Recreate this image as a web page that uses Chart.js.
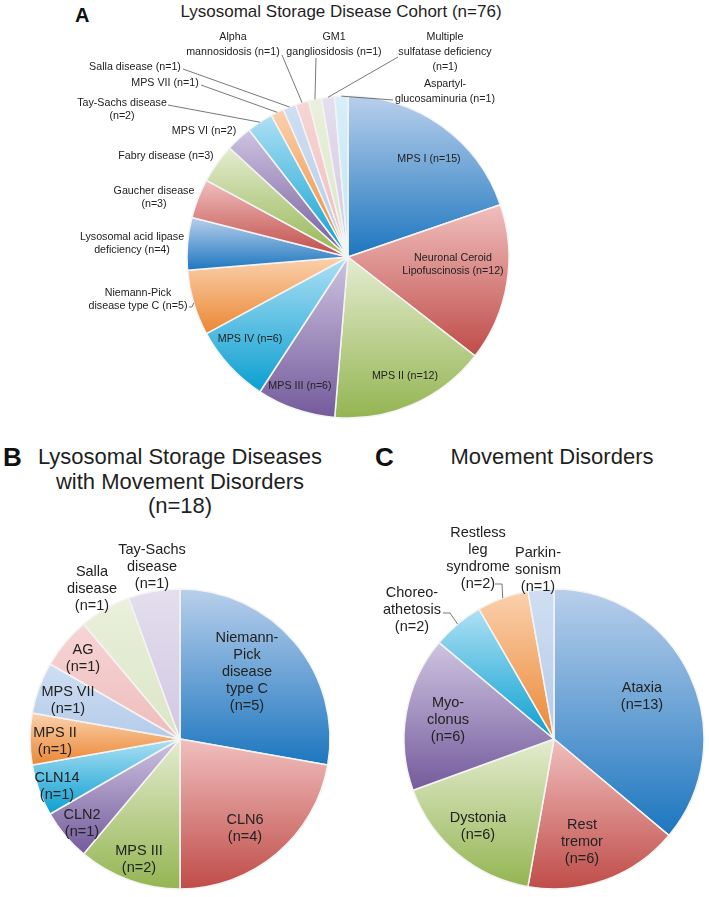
<!DOCTYPE html>
<html>
<head>
<meta charset="utf-8">
<script src="https://cdn.jsdelivr.net/npm/chart.js@4.4.1/dist/chart.umd.min.js"></script>
<style>
  body { margin: 0; background: #fff; font-family: "Liberation Sans", Arial, sans-serif; color: #1f1f1f; }
  #wrap { position: relative; width: 709px; height: 897px; overflow: hidden; }
  canvas { position: absolute; }
  .t { position: absolute; text-align: center; white-space: nowrap; }
  .letter { position: absolute; font-weight: bold; line-height: 1; color: #111; }
</style>
</head>
<body>
<div id="wrap">
  <div class="letter" style="left:75px;top:5px;font-size:20px;">A</div>
  <div class="t" style="left:141px;width:400px;top:3px;font-size:17px;line-height:1;">Lysosomal Storage Disease Cohort (n=76)</div>
  <div class="letter" style="left:3px;top:444px;font-size:26px;">B</div>
  <div class="t" style="left:20px;width:320px;top:445px;font-size:22px;line-height:24.5px;">Lysosomal Storage Diseases<br>with Movement Disorders<br>(n=18)</div>
  <div class="letter" style="left:375px;top:444px;font-size:26px;">C</div>
  <div class="t" style="left:402px;width:300px;top:445px;font-size:22px;line-height:24.5px;">Movement Disorders</div>
  <canvas id="cohortChart" width="709" height="440" style="left:0;top:0;"></canvas>
  <canvas id="lsdMovChart" width="360" height="457" style="left:0;top:440px;"></canvas>
  <canvas id="movChart" width="349" height="457" style="left:360px;top:440px;"></canvas>
</div>
<script>
// data
const cohortLabels = ['MPS I', 'Neuronal Ceroid\nLipofuscinosis', 'MPS II', 'MPS III', 'MPS IV',
  'Niemann-Pick\ndisease type C', 'Lysosomal acid lipase\ndeficiency', 'Gaucher disease', 'Fabry disease',
  'MPS VI', 'Tay-Sachs disease', 'MPS VII', 'Salla disease', 'Alpha\nmannosidosis', 'GM1\ngangliosidosis',
  'Multiple\nsulfatase deficiency', 'Aspartyl-\nglucosaminuria'];
const cohortCounts = [15, 12, 12, 6, 6, 5, 4, 3, 3, 2, 2, 1, 1, 1, 1, 1, 1];

const lsdMovLabels = ['Niemann-\nPick\ndisease\ntype C', 'CLN6', 'MPS III', 'CLN2', 'CLN14', 'MPS II',
  'MPS VII', 'AG', 'Salla\ndisease', 'Tay-Sachs\ndisease'];
const lsdMovCounts = [5, 4, 2, 1, 1, 1, 1, 1, 1, 1];

const movLabels = ['Ataxia', 'Rest\ntremor', 'Dystonia', 'Myo-\nclonus', 'Choreo-\nathetosis',
  'Restless\nleg\nsyndrome', 'Parkin-\nsonism'];
const movCounts = [13, 6, 6, 6, 2, 2, 1];

// colours: [top, bottom] of each slice gradient
const PAL = [
  ['#b9cfeb', '#1c76bf'], // blue
  ['#f0bfbe', '#bf4c48'], // red
  ['#e4ecd0', '#94b552'], // green
  ['#cec4e1', '#745a9b'], // purple
  ['#aee0f4', '#0a9fd0'], // cyan
  ['#fbd1ae', '#ea8733'], // orange
  ['#cfdef2', '#b5cbea'], // light blue
  ['#f7d5d5', '#eebcbc'], // light pink
  ['#eaf0dc', '#dbe5c5'], // light green
  ['#e4deee', '#d1c8e2'], // light purple
  ['#d8eef8', '#c1e4f3']  // light cyan
];
const cohortCols = [0, 1, 2, 3, 4, 5, 0, 1, 2, 3, 4, 5, 6, 7, 8, 9, 10];
const lsdMovCols = [0, 1, 2, 3, 4, 5, 6, 7, 8, 9];
const movCols = [0, 1, 2, 3, 4, 5, 6];

function inArc(a0, a1, t) {
  while (t < a0) t += Math.PI * 2;
  return t <= a1;
}

function sliceFill(values, cols) {
  return (c) => {
    const chart = c.chart, area = chart.chartArea;
    const pal = PAL[cols[c.dataIndex]];
    if (!area) return pal[1];
    const cx = (area.left + area.right) / 2, cy = (area.top + area.bottom) / 2;
    const r = c.dataset.radius;
    const total = values.reduce((a, b) => a + b, 0);
    let cum = 0;
    for (let k = 0; k < c.dataIndex; k++) cum += values[k];
    const a0 = -Math.PI / 2 + cum / total * Math.PI * 2;
    const a1 = a0 + values[c.dataIndex] / total * Math.PI * 2;
    const ys = [cy, cy + r * Math.sin(a0), cy + r * Math.sin(a1)];
    if (inArc(a0, a1, -Math.PI / 2)) ys.push(cy - r);
    if (inArc(a0, a1, Math.PI / 2)) ys.push(cy + r);
    const g = chart.ctx.createLinearGradient(0, Math.min(...ys), 0, Math.max(...ys));
    g.addColorStop(0, pal[0]);
    g.addColorStop(1, pal[1]);
    return g;
  };
}

// label placement, offsets from pie centre; lead = leader line points before the slice edge
const cohortPos = [
  { at: [81, -98] },
  { at: [105, 1] },
  { at: [57, 119] },
  { at: [-48, 129] },
  { at: [-98, 82] },
  { at: [-210, 36], lead: [[-159, 50], [-156, 50]] },
  { at: [-216, -20] },
  { at: [-194, -66], nl: true },
  { at: [-182, -101] },
  { at: [-144, -126] },
  { at: [-226, -154], nl: true, lead: [[-180, -152]] },
  { at: [-183, -174], lead: [[-147, -172]] },
  { at: [-213, -190], lead: [[-165, -188]] },
  { at: [-115, -220], lh: 15, lead: [[-66, -202]] },
  { at: [-14, -220], lh: 15, lead: [[-32, -199]] },
  { at: [97, -220], lh: 15, nl: true, lead: [[50, -200]] },
  { at: [97, -173], lh: 15, lead: [[45, -157]] }
];
const lsdMovPos = [
  { at: [67, -101] }, { at: [65, 81] }, { at: [-41, 112] }, { at: [-98, 76] }, { at: [-123, 39] },
  { at: [-125, -6] }, { at: [-112, -47] }, { at: [-97, -89] }, { at: [-88, -167] }, { at: [-28, -189] }
];
const movPos = [
  { at: [88, -51] }, { at: [28, 86] }, { at: [-76, 79] }, { at: [-106, -36] },
  { at: [-142, -146], lead: [[-111, -126], [-104, -126]] },
  { at: [-76, -206], lead: [[-59, -155], [-52, -155]] },
  { at: [-16, -186] }
];

function sliceLabels(pos, size, lh, allNl) {
  return {
    id: 'sliceLabels',
    afterDatasetsDraw(chart) {
      const ctx = chart.ctx;
      const meta = chart.getDatasetMeta(0);
      const ds = chart.data.datasets[0];
      ctx.save();
      ctx.font = size + 'px "Liberation Sans", Arial, sans-serif';
      ctx.textAlign = 'center';
      ctx.textBaseline = 'middle';
      meta.data.forEach((arc, i) => {
        const p = arc.getProps(['x', 'y', 'startAngle', 'endAngle', 'outerRadius'], true);
        const L = pos[i];
        if (L.lead) {
          const mid = (p.startAngle + p.endAngle) / 2;
          ctx.beginPath();
          L.lead.forEach((q, k) => {
            if (k === 0) ctx.moveTo(p.x + q[0], p.y + q[1]);
            else ctx.lineTo(p.x + q[0], p.y + q[1]);
          });
          ctx.lineTo(p.x + p.outerRadius * Math.cos(mid), p.y + p.outerRadius * Math.sin(mid));
          ctx.strokeStyle = '#555';
          ctx.lineWidth = 0.8;
          ctx.stroke();
        }
        const text = chart.data.labels[i] + (allNl || L.nl ? '\n' : ' ') + '(n=' + ds.data[i] + ')';
        const step = L.lh || lh;
        ctx.fillStyle = '#222';
        text.split('\n').forEach((s, k) => ctx.fillText(s, p.x + L.at[0], p.y + L.at[1] + k * step));
      });
      ctx.restore();
    }
  };
}

function pieChart(id, labels, values, cols, radius, padding, plugin) {
  return new Chart(document.getElementById(id), {
    type: 'pie',
    data: {
      labels: labels,
      datasets: [{
        data: values,
        radius: radius,
        backgroundColor: sliceFill(values, cols),
        borderColor: '#f4f4f4',
        borderWidth: 1.5
      }]
    },
    options: {
      responsive: false,
      animation: false,
      layout: { padding: padding },
      plugins: { legend: { display: false }, tooltip: { enabled: false } }
    },
    plugins: [plugin]
  });
}

// Lysosomal storage disease cohort
pieChart('cohortChart', cohortLabels, cohortCounts, cohortCols, 161,
  { left: 187, right: 200, top: 96, bottom: 22 }, sliceLabels(cohortPos, 10.7, 13, false));

// LSDs with movement disorders
pieChart('lsdMovChart', lsdMovLabels, lsdMovCounts, lsdMovCols, 150,
  { left: 30, right: 30, top: 149, bottom: 8 }, sliceLabels(lsdMovPos, 14.5, 17, true));

// Movement disorders
pieChart('movChart', movLabels, movCounts, movCols, 150,
  { left: 44, right: 5, top: 149, bottom: 8 }, sliceLabels(movPos, 14.5, 17, true));
</script>
</body>
</html>
